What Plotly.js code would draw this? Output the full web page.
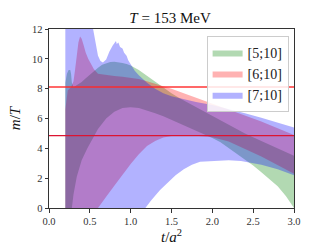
<!DOCTYPE html>
<html>
<head>
<meta charset="utf-8">
<script src="https://cdn.plot.ly/plotly-3.0.1.min.js"></script>
<style>html,body{margin:0;padding:0;background:#fff;}#chart{width:327px;height:245px;}</style>
</head>
<body>
<div id="chart"></div>
<script>
// Band labels
const bandNames = ["[5;10]", "[6;10]", "[7;10]"];

// Green band [5;10]
const gUx = [0.2,0.22,0.24,0.26,0.27,0.28,0.3,0.35,0.4,0.45,0.5,0.55,0.6,0.65,0.7,0.75,0.8,0.85,0.9,0.95,1.0,1.1,1.2,1.3,1.4,1.5,1.6,1.8,2.0,2.2,2.4,2.6,2.8,3.0];
const gUy = [8.4,9.0,9.25,9.25,9.0,8.4,8.1,8.25,8.45,8.7,8.95,9.2,9.4,9.6,9.7,9.78,9.8,9.78,9.72,9.65,9.55,9.25,8.85,8.45,8.05,7.7,7.35,6.75,6.2,5.6,5.0,4.5,4.0,3.5];
const gLx = [0.2,0.28,0.3,0.34,0.4,0.47,0.5,0.6,0.7,0.8,0.9,1.0,1.1,1.2,1.3,1.4,1.5,1.6,1.7,1.8,1.9,2.0,2.1,2.2,2.3,2.4,2.5,2.6,2.7,2.8,2.9,3.0];
const gLy = [-1.5,0,0.9,2.1,3.2,4.0,4.35,5.3,6.0,6.45,6.7,6.75,6.7,6.55,6.35,6.15,5.95,5.7,5.45,5.2,4.95,4.7,4.4,4.0,3.6,3.25,2.85,2.4,1.95,1.45,0.8,0.0];

// Red band [6;10]
const rUx = [0.2,0.23,0.27,0.3,0.32,0.34,0.36,0.38,0.4,0.42,0.45,0.48,0.5,0.55,0.6,0.7,0.8,0.9,1.0,1.1,1.2,1.3,1.4,1.5,1.6,1.8,2.0,2.2,2.4,2.6,2.8,3.0];
const rUy = [6.6,7.9,8.1,8.5,9.3,10.3,11.1,11.5,11.35,11.0,10.4,10.0,9.8,9.3,9.0,8.9,8.85,8.8,8.75,8.65,8.5,8.35,8.2,8.0,7.8,7.4,7.05,6.65,6.25,5.8,5.35,4.9];
const rLx = [0.2,0.6,0.7,0.8,0.9,1.0,1.1,1.2,1.3,1.4,1.5,1.6,1.8,2.0,2.2,2.4,2.6,2.8,3.0];
const rLy = [-3,0,0.75,1.5,2.25,2.95,3.6,4.15,4.5,4.72,4.82,4.85,4.85,4.75,4.45,3.95,3.45,2.9,2.3];

// Blue band [7;10]
const bUx = [0.2,0.53,0.54,0.57,0.6,0.63,0.66,0.7,0.74,0.78,0.8,0.82,0.83,0.85,0.87,0.9,0.92,0.95,0.97,1.0,1.05,1.1,1.2,1.3,1.4,1.5,1.6,1.8,2.0,2.2,2.4,2.6,2.8,3.0];
const bUy = [14,14,12.0,11.0,10.2,9.85,9.75,9.95,10.5,10.9,11.1,11.2,11.0,11.1,10.8,10.7,10.4,10.2,9.9,9.6,9.2,8.9,8.4,8.0,7.7,7.5,7.35,7.1,6.9,6.65,6.35,6.05,5.75,5.4];
const bLx = [0.2,1.18,1.25,1.36,1.45,1.55,1.65,1.75,1.85,2.0,2.2,2.35,2.45,2.6,2.8,3.0];
const bLy = [-5,0,0.5,1.2,1.7,2.2,2.6,2.9,3.1,3.15,3.2,3.15,3.05,2.9,2.6,2.2];

// Reference horizontal levels
const refLevels = [8.12, 4.85];
const xRange = [0, 3];

const xTicks = [0,0.5,1,1.5,2,2.5,3];
const xTickText = ["0.0","0.5","1.0","1.5","2.0","2.5","3.0"];
const yTicks = [0,2,4,6,8,10,12];

function band(ux, uy, lx, ly, name, color) {
  return {
    type: "scatter", mode: "lines", name: name,
    x: ux.concat(lx.slice().reverse()),
    y: uy.concat(ly.slice().reverse()),
    fill: "toself", fillcolor: color,
    line: {width: 0, color: color},
    hoverinfo: "skip", showlegend: true
  };
}

const serif = "'Liberation Serif', 'DejaVu Serif', serif";

const traces = [
  band(gUx, gUy, gLx, gLy, bandNames[0], "rgba(0,128,0,0.3)"),
  band(rUx, rUy, rLx, rLy, bandNames[1], "rgba(255,0,0,0.3)"),
  band(bUx, bUy, bLx, bLy, bandNames[2], "rgba(0,0,255,0.3)"),
  {type:"scatter", mode:"lines", x: xRange, y: [refLevels[0], refLevels[0]],
   line:{color:"rgba(255,40,40,0.7)", width:2}, showlegend:false, hoverinfo:"skip"},
  {type:"scatter", mode:"lines", x: xRange, y: [refLevels[1], refLevels[1]],
   line:{color:"rgb(220,20,50)", width:1.3}, showlegend:false, hoverinfo:"skip"}
];

const layout = {
  width: 327, height: 245,
  margin: {l: 49, r: 33, t: 29, b: 37},
  paper_bgcolor: "#fff", plot_bgcolor: "#fff",
  showlegend: true,
  title: {text: "<i>T</i> = 153 MeV", font: {family: serif, size: 15, color: "#111"},
          x: 0.52, xanchor: "center", y: 0.928, yanchor: "middle"},
  xaxis: {
    range: xRange, tickvals: xTicks, ticktext: xTickText,
    showgrid: false, zeroline: false,
    showline: true, mirror: true, linecolor: "#333", linewidth: 1,
    ticks: "outside", ticklen: 3.5, tickcolor: "#333",
    tickfont: {family: serif, size: 10.5, color: "#333"},
    title: {text: "<i>t</i>/<i>a</i><sup>2</sup>", font: {family: serif, size: 15, color: "#111"}, standoff: 1}
  },
  yaxis: {
    range: [0, 12], tickvals: yTicks,
    showgrid: false, zeroline: false,
    showline: true, mirror: true, linecolor: "#333", linewidth: 1,
    ticks: "outside", ticklen: 3.5, tickcolor: "#333",
    tickfont: {family: serif, size: 10.5, color: "#333"},
    title: {text: "<i>m</i>/<i>T</i>", font: {family: serif, size: 15, color: "#111"}, standoff: 7}
  },
  legend: {
    x: 0.978, xanchor: "right", y: 0.962, yanchor: "top",
    bgcolor: "rgba(255,255,255,0.85)", bordercolor: "#ccc", borderwidth: 1,
    font: {family: serif, size: 14, color: "#222"},
    itemwidth: 30, tracegroupgap: 0
  }
};

Plotly.newPlot("chart", traces, layout, {staticPlot: true, displayModeBar: false});
</script>
</body>
</html>
